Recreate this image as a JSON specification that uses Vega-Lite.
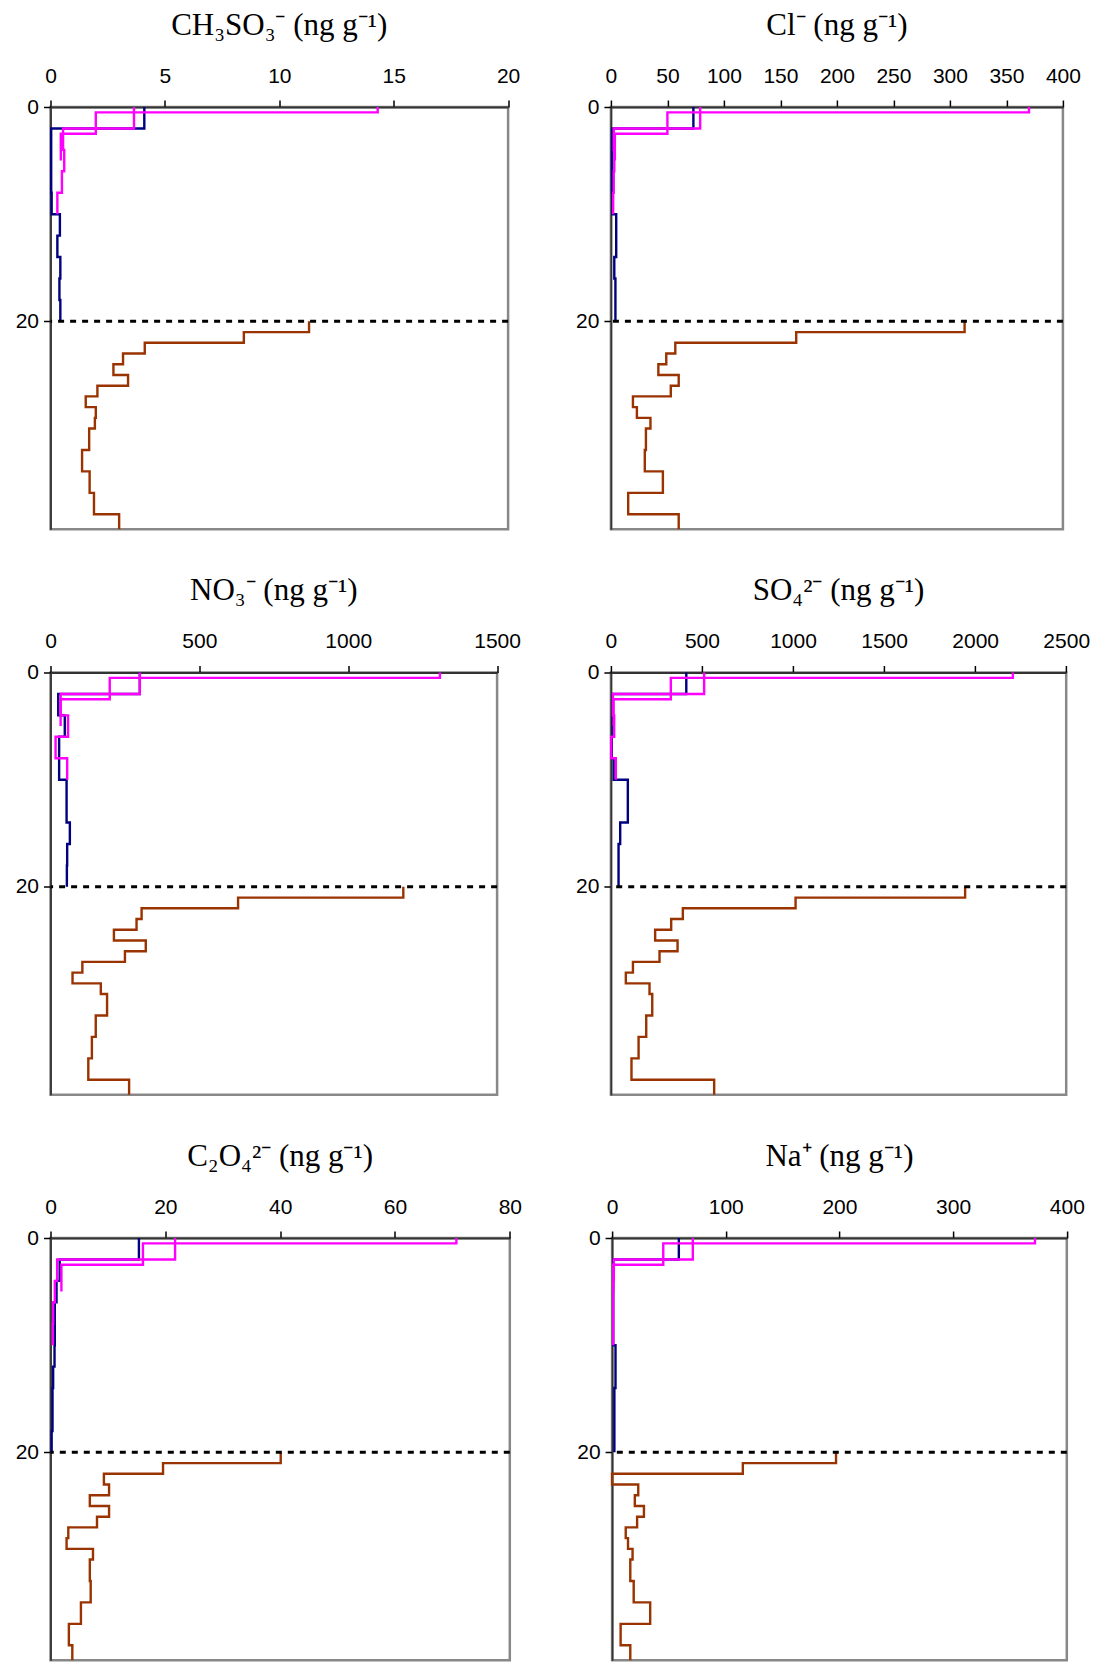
{
"$schema": "https://vega.github.io/schema/vega-lite/v6.json",
"background": "white",
"padding": {"left": 13.5, "top": 8, "right": 5, "bottom": 0},
"config": {
  "view": {"stroke": "#888888", "strokeWidth": 2.5},
  "axis": {"grid": false, "format": "d", "labelFont": "Liberation Sans", "labelFontSize": 21, "labelColor": "#000000", "labelFlush": false, "labelOverlap": false, "tickColor": "#000000", "tickSize": 7, "tickWidth": 1.5, "domainColor": "#333333", "domainWidth": 1.8, "title": null, "labelPadding": 5},
  "axisTop": {"labelPadding": 14},
  "title": {"font": "Liberation Serif", "fontSize": 31, "fontWeight": "normal", "color": "#000000", "offset": 23.5, "frame": "group"}
},
"datasets": {"profiles": [
{"panel":"CH3SO3","series":"s1","depth":0,"value":4.1},{"panel":"CH3SO3","series":"s1","depth":2,"value":0.03},{"panel":"CH3SO3","series":"s1","depth":4,"value":0.03},{"panel":"CH3SO3","series":"s1","depth":6,"value":0.03},{"panel":"CH3SO3","series":"s1","depth":8,"value":0.05},{"panel":"CH3SO3","series":"s1","depth":10,"value":0.41},{"panel":"CH3SO3","series":"s1","depth":12,"value":0.3},{"panel":"CH3SO3","series":"s1","depth":14,"value":0.43},{"panel":"CH3SO3","series":"s1","depth":16,"value":0.39},{"panel":"CH3SO3","series":"s1","depth":18,"value":0.43},{"panel":"CH3SO3","series":"s1","depth":20,"value":0.43},
{"panel":"CH3SO3","series":"s2","depth":0,"value":14.3},{"panel":"CH3SO3","series":"s2","depth":0.5,"value":1.98},{"panel":"CH3SO3","series":"s2","depth":2.5,"value":0.45},{"panel":"CH3SO3","series":"s2","depth":5,"value":0.45},
{"panel":"CH3SO3","series":"s3","depth":0,"value":3.65},{"panel":"CH3SO3","series":"s3","depth":2,"value":0.55},{"panel":"CH3SO3","series":"s3","depth":4,"value":0.6},{"panel":"CH3SO3","series":"s3","depth":6,"value":0.5},{"panel":"CH3SO3","series":"s3","depth":8,"value":0.3},{"panel":"CH3SO3","series":"s3","depth":10,"value":0.3},
{"panel":"CH3SO3","series":"s4","depth":20,"value":11.3},{"panel":"CH3SO3","series":"s4","depth":21,"value":8.45},{"panel":"CH3SO3","series":"s4","depth":22,"value":4.12},{"panel":"CH3SO3","series":"s4","depth":23,"value":3.17},{"panel":"CH3SO3","series":"s4","depth":24,"value":2.75},{"panel":"CH3SO3","series":"s4","depth":25,"value":3.39},{"panel":"CH3SO3","series":"s4","depth":26,"value":2.05},{"panel":"CH3SO3","series":"s4","depth":27,"value":1.54},{"panel":"CH3SO3","series":"s4","depth":28,"value":1.98},{"panel":"CH3SO3","series":"s4","depth":29,"value":1.94},{"panel":"CH3SO3","series":"s4","depth":30,"value":1.69},{"panel":"CH3SO3","series":"s4","depth":32,"value":1.38},{"panel":"CH3SO3","series":"s4","depth":34,"value":1.71},{"panel":"CH3SO3","series":"s4","depth":36,"value":1.9},{"panel":"CH3SO3","series":"s4","depth":38,"value":3.0},{"panel":"CH3SO3","series":"s4","depth":39.4,"value":3.0},

{"panel":"Cl","series":"s1","depth":0,"value":73},{"panel":"Cl","series":"s1","depth":2,"value":1},{"panel":"Cl","series":"s1","depth":4,"value":1},{"panel":"Cl","series":"s1","depth":6,"value":1},{"panel":"Cl","series":"s1","depth":8,"value":1.5},{"panel":"Cl","series":"s1","depth":10,"value":4.7},{"panel":"Cl","series":"s1","depth":12,"value":4.7},{"panel":"Cl","series":"s1","depth":14,"value":3},{"panel":"Cl","series":"s1","depth":16,"value":4},{"panel":"Cl","series":"s1","depth":18,"value":4},{"panel":"Cl","series":"s1","depth":20,"value":4},
{"panel":"Cl","series":"s2","depth":0,"value":370},{"panel":"Cl","series":"s2","depth":0.5,"value":50},{"panel":"Cl","series":"s2","depth":2.5,"value":3.5},{"panel":"Cl","series":"s2","depth":5,"value":3.5},
{"panel":"Cl","series":"s3","depth":0,"value":79},{"panel":"Cl","series":"s3","depth":2,"value":2.5},{"panel":"Cl","series":"s3","depth":4,"value":3},{"panel":"Cl","series":"s3","depth":6,"value":2.5},{"panel":"Cl","series":"s3","depth":8,"value":2},{"panel":"Cl","series":"s3","depth":10,"value":2},
{"panel":"Cl","series":"s4","depth":20,"value":313},{"panel":"Cl","series":"s4","depth":21,"value":164},{"panel":"Cl","series":"s4","depth":22,"value":57},{"panel":"Cl","series":"s4","depth":23,"value":49},{"panel":"Cl","series":"s4","depth":24,"value":42},{"panel":"Cl","series":"s4","depth":25,"value":60},{"panel":"Cl","series":"s4","depth":26,"value":53},{"panel":"Cl","series":"s4","depth":27,"value":19.5},{"panel":"Cl","series":"s4","depth":28,"value":23},{"panel":"Cl","series":"s4","depth":29,"value":35},{"panel":"Cl","series":"s4","depth":30,"value":31},{"panel":"Cl","series":"s4","depth":32,"value":30},{"panel":"Cl","series":"s4","depth":34,"value":46},{"panel":"Cl","series":"s4","depth":36,"value":15.3},{"panel":"Cl","series":"s4","depth":38,"value":60},{"panel":"Cl","series":"s4","depth":39.4,"value":60},

{"panel":"NO3","series":"s1","depth":0,"value":300},{"panel":"NO3","series":"s1","depth":2,"value":26},{"panel":"NO3","series":"s1","depth":4,"value":48},{"panel":"NO3","series":"s1","depth":6,"value":29},{"panel":"NO3","series":"s1","depth":8,"value":29},{"panel":"NO3","series":"s1","depth":10,"value":54},{"panel":"NO3","series":"s1","depth":12,"value":54},{"panel":"NO3","series":"s1","depth":14,"value":65},{"panel":"NO3","series":"s1","depth":16,"value":56},{"panel":"NO3","series":"s1","depth":18,"value":55},{"panel":"NO3","series":"s1","depth":20,"value":55},
{"panel":"NO3","series":"s2","depth":0,"value":1308},{"panel":"NO3","series":"s2","depth":0.5,"value":199},{"panel":"NO3","series":"s2","depth":2.5,"value":34},{"panel":"NO3","series":"s2","depth":5,"value":34},
{"panel":"NO3","series":"s3","depth":0,"value":300},{"panel":"NO3","series":"s3","depth":2,"value":34},{"panel":"NO3","series":"s3","depth":4,"value":59},{"panel":"NO3","series":"s3","depth":6,"value":17},{"panel":"NO3","series":"s3","depth":8,"value":56},{"panel":"NO3","series":"s3","depth":10,"value":56},
{"panel":"NO3","series":"s4","depth":20,"value":1185},{"panel":"NO3","series":"s4","depth":21,"value":630},{"panel":"NO3","series":"s4","depth":22,"value":306},{"panel":"NO3","series":"s4","depth":23,"value":289},{"panel":"NO3","series":"s4","depth":24,"value":213},{"panel":"NO3","series":"s4","depth":25,"value":320},{"panel":"NO3","series":"s4","depth":26,"value":250},{"panel":"NO3","series":"s4","depth":27,"value":107},{"panel":"NO3","series":"s4","depth":28,"value":74},{"panel":"NO3","series":"s4","depth":29,"value":169},{"panel":"NO3","series":"s4","depth":30,"value":190},{"panel":"NO3","series":"s4","depth":32,"value":152},{"panel":"NO3","series":"s4","depth":34,"value":139},{"panel":"NO3","series":"s4","depth":36,"value":127},{"panel":"NO3","series":"s4","depth":38,"value":264},{"panel":"NO3","series":"s4","depth":39.4,"value":264},

{"panel":"SO4","series":"s1","depth":0,"value":414},{"panel":"SO4","series":"s1","depth":2,"value":10},{"panel":"SO4","series":"s1","depth":4,"value":10},{"panel":"SO4","series":"s1","depth":6,"value":5},{"panel":"SO4","series":"s1","depth":8,"value":15},{"panel":"SO4","series":"s1","depth":10,"value":93},{"panel":"SO4","series":"s1","depth":12,"value":93},{"panel":"SO4","series":"s1","depth":14,"value":51},{"panel":"SO4","series":"s1","depth":16,"value":42},{"panel":"SO4","series":"s1","depth":18,"value":42},{"panel":"SO4","series":"s1","depth":20,"value":42},
{"panel":"SO4","series":"s2","depth":0,"value":2207},{"panel":"SO4","series":"s2","depth":0.5,"value":329},{"panel":"SO4","series":"s2","depth":2.5,"value":15},{"panel":"SO4","series":"s2","depth":5,"value":15},
{"panel":"SO4","series":"s3","depth":0,"value":512},{"panel":"SO4","series":"s3","depth":2,"value":11},{"panel":"SO4","series":"s3","depth":4,"value":18},{"panel":"SO4","series":"s3","depth":6,"value":2},{"panel":"SO4","series":"s3","depth":8,"value":27},{"panel":"SO4","series":"s3","depth":10,"value":27},
{"panel":"SO4","series":"s4","depth":20,"value":1945},{"panel":"SO4","series":"s4","depth":21,"value":1014},{"panel":"SO4","series":"s4","depth":22,"value":395},{"panel":"SO4","series":"s4","depth":23,"value":331},{"panel":"SO4","series":"s4","depth":24,"value":243},{"panel":"SO4","series":"s4","depth":25,"value":366},{"panel":"SO4","series":"s4","depth":26,"value":267},{"panel":"SO4","series":"s4","depth":27,"value":121},{"panel":"SO4","series":"s4","depth":28,"value":82},{"panel":"SO4","series":"s4","depth":29,"value":212},{"panel":"SO4","series":"s4","depth":30,"value":227},{"panel":"SO4","series":"s4","depth":32,"value":194},{"panel":"SO4","series":"s4","depth":34,"value":152},{"panel":"SO4","series":"s4","depth":36,"value":113},{"panel":"SO4","series":"s4","depth":38,"value":567},{"panel":"SO4","series":"s4","depth":39.4,"value":567},

{"panel":"C2O4","series":"s1","depth":0,"value":15.4},{"panel":"C2O4","series":"s1","depth":2,"value":1.6},{"panel":"C2O4","series":"s1","depth":4,"value":1.05},{"panel":"C2O4","series":"s1","depth":6,"value":0.75},{"panel":"C2O4","series":"s1","depth":8,"value":0.75},{"panel":"C2O4","series":"s1","depth":10,"value":0.7},{"panel":"C2O4","series":"s1","depth":12,"value":0.46},{"panel":"C2O4","series":"s1","depth":14,"value":0.35},{"panel":"C2O4","series":"s1","depth":16,"value":0.35},{"panel":"C2O4","series":"s1","depth":18,"value":0.2},{"panel":"C2O4","series":"s1","depth":20,"value":0.2},
{"panel":"C2O4","series":"s2","depth":0,"value":70.7},{"panel":"C2O4","series":"s2","depth":0.5,"value":16.1},{"panel":"C2O4","series":"s2","depth":2.5,"value":1.9},{"panel":"C2O4","series":"s2","depth":5,"value":1.9},
{"panel":"C2O4","series":"s3","depth":0,"value":21.7},{"panel":"C2O4","series":"s3","depth":2,"value":1.16},{"panel":"C2O4","series":"s3","depth":4,"value":0.75},{"panel":"C2O4","series":"s3","depth":6,"value":0.46},{"panel":"C2O4","series":"s3","depth":8,"value":0.4},{"panel":"C2O4","series":"s3","depth":10,"value":0.4},
{"panel":"C2O4","series":"s4","depth":20,"value":40.1},{"panel":"C2O4","series":"s4","depth":21,"value":19.6},{"panel":"C2O4","series":"s4","depth":22,"value":9.3},{"panel":"C2O4","series":"s4","depth":23,"value":10.2},{"panel":"C2O4","series":"s4","depth":24,"value":6.85},{"panel":"C2O4","series":"s4","depth":25,"value":10.2},{"panel":"C2O4","series":"s4","depth":26,"value":8.1},{"panel":"C2O4","series":"s4","depth":27,"value":3.1},{"panel":"C2O4","series":"s4","depth":28,"value":2.8},{"panel":"C2O4","series":"s4","depth":29,"value":7.4},{"panel":"C2O4","series":"s4","depth":30,"value":6.85},{"panel":"C2O4","series":"s4","depth":32,"value":7.0},{"panel":"C2O4","series":"s4","depth":34,"value":5.3},{"panel":"C2O4","series":"s4","depth":36,"value":3.2},{"panel":"C2O4","series":"s4","depth":38,"value":3.8},{"panel":"C2O4","series":"s4","depth":39.4,"value":3.8},

{"panel":"Na","series":"s1","depth":0,"value":58.7},{"panel":"Na","series":"s1","depth":2,"value":1},{"panel":"Na","series":"s1","depth":4,"value":1},{"panel":"Na","series":"s1","depth":6,"value":1},{"panel":"Na","series":"s1","depth":8,"value":1},{"panel":"Na","series":"s1","depth":10,"value":3},{"panel":"Na","series":"s1","depth":12,"value":3},{"panel":"Na","series":"s1","depth":14,"value":2},{"panel":"Na","series":"s1","depth":16,"value":2},{"panel":"Na","series":"s1","depth":18,"value":2},{"panel":"Na","series":"s1","depth":20,"value":2},
{"panel":"Na","series":"s2","depth":0,"value":372},{"panel":"Na","series":"s2","depth":0.5,"value":45},{"panel":"Na","series":"s2","depth":2.5,"value":1},{"panel":"Na","series":"s2","depth":5,"value":1},
{"panel":"Na","series":"s3","depth":0,"value":71},{"panel":"Na","series":"s3","depth":2,"value":1.5},{"panel":"Na","series":"s3","depth":4,"value":1},{"panel":"Na","series":"s3","depth":6,"value":1},{"panel":"Na","series":"s3","depth":8,"value":1},{"panel":"Na","series":"s3","depth":10,"value":1},
{"panel":"Na","series":"s4","depth":20,"value":197},{"panel":"Na","series":"s4","depth":21,"value":115},{"panel":"Na","series":"s4","depth":22,"value":0},{"panel":"Na","series":"s4","depth":23,"value":23},{"panel":"Na","series":"s4","depth":24,"value":20},{"panel":"Na","series":"s4","depth":25,"value":28},{"panel":"Na","series":"s4","depth":26,"value":22},{"panel":"Na","series":"s4","depth":27,"value":12},{"panel":"Na","series":"s4","depth":28,"value":14},{"panel":"Na","series":"s4","depth":29,"value":18},{"panel":"Na","series":"s4","depth":30,"value":16},{"panel":"Na","series":"s4","depth":32,"value":19},{"panel":"Na","series":"s4","depth":34,"value":33.5},{"panel":"Na","series":"s4","depth":36,"value":7.5},{"panel":"Na","series":"s4","depth":38,"value":16},{"panel":"Na","series":"s4","depth":39.4,"value":16}
]},
"bounds": "flush",
"spacing": 565.5,
"vconcat": [
 {"bounds": "flush", "spacing": 102.4, "hconcat": [
  {"width": 457.6, "height": 422.3, "title": "CH₃SO₃⁻ (ng g⁻¹)",
   "layer": [
    {"data": {"name": "profiles"}, "transform": [{"filter": "datum.panel === 'CH3SO3'"}],
     "mark": {"type": "line", "interpolate": "step-before", "strokeWidth": 2.4},
     "encoding": {
      "x": {"field": "value", "type": "quantitative", "scale": {"domain": [0, 20], "nice": false}, "axis": {"orient": "top", "values": [0, 5, 10, 15, 20]}},
      "y": {"field": "depth", "type": "quantitative", "scale": {"domain": [0, 39.4], "nice": false, "reverse": true}, "axis": {"values": [0, 20]}},
      "color": {"field": "series", "type": "nominal", "scale": {"domain": ["s1", "s2", "s3", "s4"], "range": ["#000080", "#FF00FF", "#FF00FF", "#993300"]}, "legend": null},
      "order": {"field": "depth", "type": "quantitative"}}},
    {"data": {"values": [{}]}, "mark": {"type": "rule", "strokeDash": [6, 6], "strokeWidth": 3, "color": "#000000"},
     "encoding": {"y": {"datum": 20, "type": "quantitative"}}}
   ]},
  {"width": 452, "height": 422.3, "title": "Cl⁻ (ng g⁻¹)",
   "layer": [
    {"data": {"name": "profiles"}, "transform": [{"filter": "datum.panel === 'Cl'"}],
     "mark": {"type": "line", "interpolate": "step-before", "strokeWidth": 2.4},
     "encoding": {
      "x": {"field": "value", "type": "quantitative", "scale": {"domain": [0, 400], "nice": false}, "axis": {"orient": "top", "values": [0, 50, 100, 150, 200, 250, 300, 350, 400]}},
      "y": {"field": "depth", "type": "quantitative", "scale": {"domain": [0, 39.4], "nice": false, "reverse": true}, "axis": {"values": [0, 20]}},
      "color": {"field": "series", "type": "nominal", "scale": {"domain": ["s1", "s2", "s3", "s4"], "range": ["#000080", "#FF00FF", "#FF00FF", "#993300"]}, "legend": null},
      "order": {"field": "depth", "type": "quantitative"}}},
    {"data": {"values": [{}]}, "mark": {"type": "rule", "strokeDash": [6, 6], "strokeWidth": 3, "color": "#000000"},
     "encoding": {"y": {"datum": 20, "type": "quantitative"}}}
   ]}
 ]},
 {"bounds": "flush", "spacing": 113.4, "hconcat": [
  {"width": 446.6, "height": 422.3, "title": "NO₃⁻ (ng g⁻¹)",
   "layer": [
    {"data": {"name": "profiles"}, "transform": [{"filter": "datum.panel === 'NO3'"}],
     "mark": {"type": "line", "interpolate": "step-before", "strokeWidth": 2.4},
     "encoding": {
      "x": {"field": "value", "type": "quantitative", "scale": {"domain": [0, 1500], "nice": false}, "axis": {"orient": "top", "values": [0, 500, 1000, 1500]}},
      "y": {"field": "depth", "type": "quantitative", "scale": {"domain": [0, 39.4], "nice": false, "reverse": true}, "axis": {"values": [0, 20]}},
      "color": {"field": "series", "type": "nominal", "scale": {"domain": ["s1", "s2", "s3", "s4"], "range": ["#000080", "#FF00FF", "#FF00FF", "#993300"]}, "legend": null},
      "order": {"field": "depth", "type": "quantitative"}}},
    {"data": {"values": [{}]}, "mark": {"type": "rule", "strokeDash": [6, 6], "strokeWidth": 3, "color": "#000000"},
     "encoding": {"y": {"datum": 20, "type": "quantitative"}}}
   ]},
  {"width": 455.3, "height": 422.3, "title": "SO₄²⁻ (ng g⁻¹)",
   "layer": [
    {"data": {"name": "profiles"}, "transform": [{"filter": "datum.panel === 'SO4'"}],
     "mark": {"type": "line", "interpolate": "step-before", "strokeWidth": 2.4},
     "encoding": {
      "x": {"field": "value", "type": "quantitative", "scale": {"domain": [0, 2500], "nice": false}, "axis": {"orient": "top", "values": [0, 500, 1000, 1500, 2000, 2500]}},
      "y": {"field": "depth", "type": "quantitative", "scale": {"domain": [0, 39.4], "nice": false, "reverse": true}, "axis": {"values": [0, 20]}},
      "color": {"field": "series", "type": "nominal", "scale": {"domain": ["s1", "s2", "s3", "s4"], "range": ["#000080", "#FF00FF", "#FF00FF", "#993300"]}, "legend": null},
      "order": {"field": "depth", "type": "quantitative"}}},
    {"data": {"values": [{}]}, "mark": {"type": "rule", "strokeDash": [6, 6], "strokeWidth": 3, "color": "#000000"},
     "encoding": {"y": {"datum": 20, "type": "quantitative"}}}
   ]}
 ]},
 {"bounds": "flush", "spacing": 101.6, "hconcat": [
  {"width": 459.3, "height": 422.3, "title": "C₂O₄²⁻ (ng g⁻¹)",
   "layer": [
    {"data": {"name": "profiles"}, "transform": [{"filter": "datum.panel === 'C2O4'"}],
     "mark": {"type": "line", "interpolate": "step-before", "strokeWidth": 2.4},
     "encoding": {
      "x": {"field": "value", "type": "quantitative", "scale": {"domain": [0, 80], "nice": false}, "axis": {"orient": "top", "values": [0, 20, 40, 60, 80]}},
      "y": {"field": "depth", "type": "quantitative", "scale": {"domain": [0, 39.4], "nice": false, "reverse": true}, "axis": {"values": [0, 20]}},
      "color": {"field": "series", "type": "nominal", "scale": {"domain": ["s1", "s2", "s3", "s4"], "range": ["#000080", "#FF00FF", "#FF00FF", "#993300"]}, "legend": null},
      "order": {"field": "depth", "type": "quantitative"}}},
    {"data": {"values": [{}]}, "mark": {"type": "rule", "strokeDash": [6, 6], "strokeWidth": 3, "color": "#000000"},
     "encoding": {"y": {"datum": 20, "type": "quantitative"}}}
   ]},
  {"width": 454.7, "height": 422.3, "title": "Na⁺ (ng g⁻¹)",
   "layer": [
    {"data": {"name": "profiles"}, "transform": [{"filter": "datum.panel === 'Na'"}],
     "mark": {"type": "line", "interpolate": "step-before", "strokeWidth": 2.4},
     "encoding": {
      "x": {"field": "value", "type": "quantitative", "scale": {"domain": [0, 400], "nice": false}, "axis": {"orient": "top", "values": [0, 100, 200, 300, 400]}},
      "y": {"field": "depth", "type": "quantitative", "scale": {"domain": [0, 39.4], "nice": false, "reverse": true}, "axis": {"values": [0, 20]}},
      "color": {"field": "series", "type": "nominal", "scale": {"domain": ["s1", "s2", "s3", "s4"], "range": ["#000080", "#FF00FF", "#FF00FF", "#993300"]}, "legend": null},
      "order": {"field": "depth", "type": "quantitative"}}},
    {"data": {"values": [{}]}, "mark": {"type": "rule", "strokeDash": [6, 6], "strokeWidth": 3, "color": "#000000"},
     "encoding": {"y": {"datum": 20, "type": "quantitative"}}}
   ]}
 ]}
]
}
